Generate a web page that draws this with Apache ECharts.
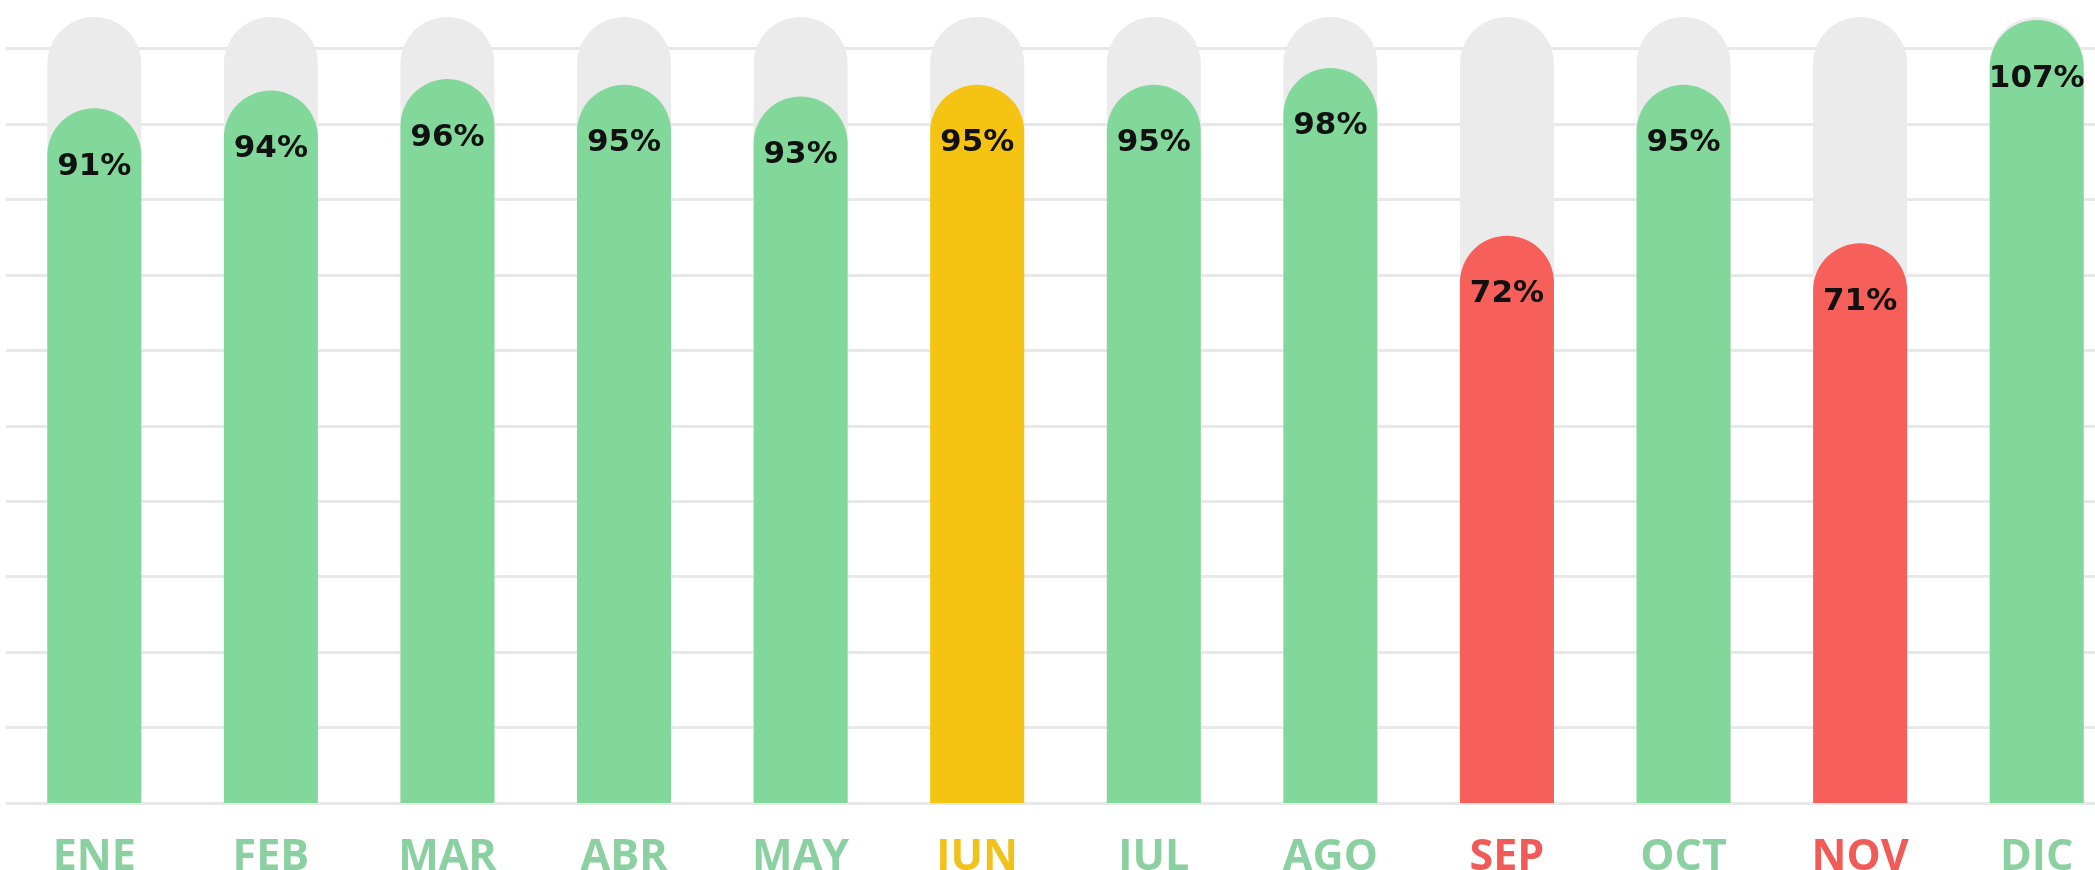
<!DOCTYPE html>
<html>
<head>
<meta charset="utf-8">
<script src="https://cdn.jsdelivr.net/npm/echarts@6/dist/echarts.min.js"></script>
<style>
  html, body { margin: 0; padding: 0; background: #ffffff; }
  #chart { width: 2095px; height: 870px; }
</style>
</head>
<body>
<div id="chart"></div>
<script>
// ---- data ----
const categories = ['ENE', 'FEB', 'MAR', 'ABR', 'MAY', 'JUN', 'JUL', 'AGO', 'SEP', 'OCT', 'NOV', 'DIC'];
const values = [91, 94, 96, 95, 93, 95, 95, 98, 72, 95, 71, 107];
const status = ['ok', 'ok', 'ok', 'ok', 'ok', 'warn', 'ok', 'ok', 'bad', 'ok', 'bad', 'ok'];
// value scale (logarithmic, as the bar heights in the picture follow)
const valueMin = 25.4;
const valueMax = 107.6;
// evenly spaced background guide lines
const guideMax = 10.42;
const guideStep = 1;

// ---- styles ----
const statusColor = { ok: '#82d89b', warn: '#f5c412', bad: '#f7605a' };
const labelColor = { ok: '#8bd0a0', warn: '#f2c21c', bad: '#f05a57' };
const barW = 94;
const valueFont = '"DejaVu Sans", Inter, sans-serif';
const catFont = '"Open Sans", "Liberation Sans", sans-serif';

const chart = echarts.init(document.getElementById('chart'), null, { renderer: 'canvas' });

const gridColors = [];
for (let v = 0; v <= guideMax; v += guideStep) gridColors.push('#e8e8e8');
gridColors.push('rgba(0,0,0,0)');

chart.setOption({
  animation: false,
  grid: { left: 6, top: 17, width: 2119, height: 786, containLabel: false, outerBoundsMode: 'none' },
  xAxis: {
    type: 'category',
    data: categories,
    axisLine: { show: false },
    axisTick: { show: false },
    axisLabel: {
      margin: 33,
      fontFamily: catFont,
      fontWeight: 'bold',
      fontSize: 43,
      color: function (val, idx) { return labelColor[status[idx]]; }
    }
  },
  yAxis: [{
    type: 'log',
    logBase: 10,
    min: valueMin,
    max: valueMax,
    axisLine: { show: false },
    axisTick: { show: false },
    axisLabel: { show: false },
    splitLine: { show: false },
    minorSplitLine: { show: false }
  }, {
    type: 'value',
    min: 0,
    max: guideMax,
    interval: guideStep,
    position: 'left',
    axisLine: { show: false },
    axisTick: { show: false },
    axisLabel: { show: false },
    splitLine: { show: true, lineStyle: { color: gridColors, width: 3 } }
  }],
  series: [{
    type: 'bar',
    yAxisIndex: 0,
    data: values.map(function (v, i) {
      return { value: v, itemStyle: { color: statusColor[status[i]] } };
    }),
    barWidth: barW,
    itemStyle: { borderRadius: [barW / 2, barW / 2, 0, 0] },
    showBackground: true,
    backgroundStyle: { color: '#ebebeb', borderRadius: [barW / 2, barW / 2, 0, 0] },
    label: {
      show: true,
      position: 'insideTop',
      distance: 43,
      formatter: '{c}%',
      color: '#111111',
      fontFamily: valueFont,
      fontWeight: 'bold',
      fontSize: 31
    }
  }]
});
</script>
</body>
</html>
